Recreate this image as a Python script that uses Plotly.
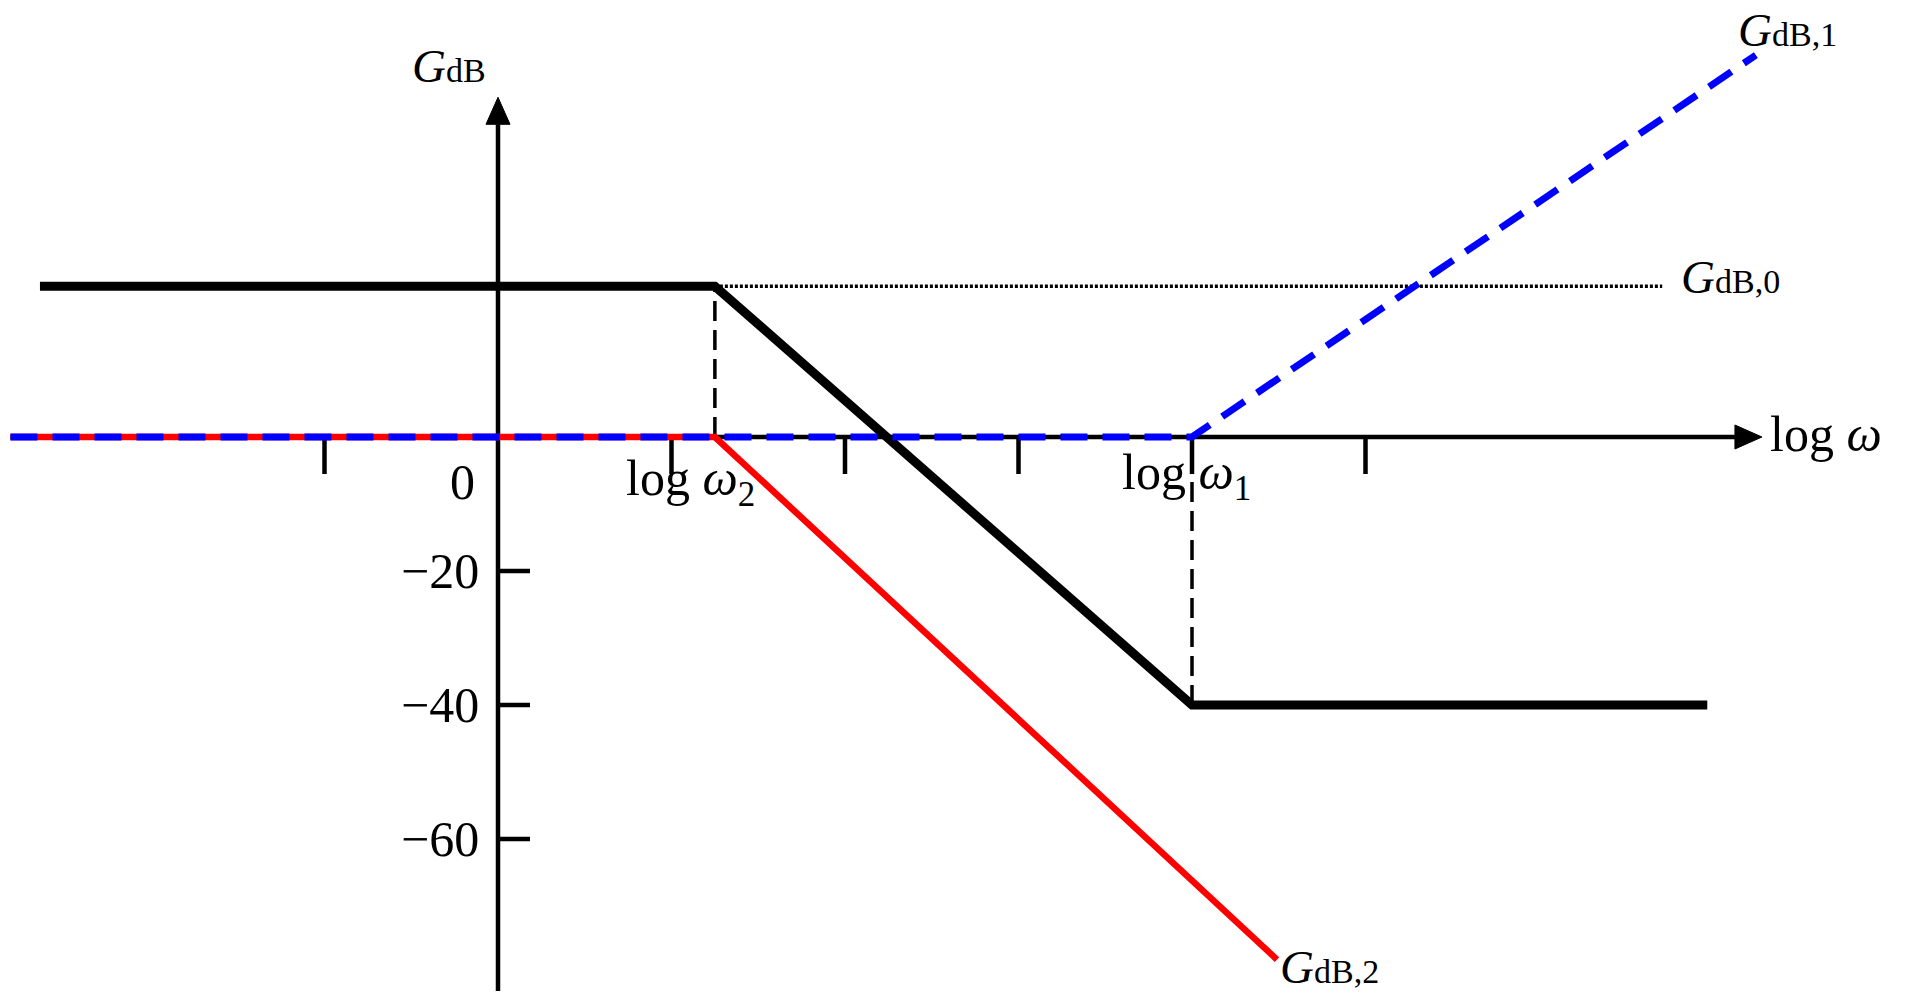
import plotly.graph_objects as go

# ---- Asymptotic Bode magnitude sketch (x in decades of log ω, y in dB) ----
log_w2 = 1.25          # first corner  (log ω2)
log_w1 = 4.0           # second corner (log ω1)
g_db0 = 22.5           # static gain level G_dB,0

# total response G_dB (thick black)
total_x = [-2.64, log_w2, log_w1, 6.97]
total_y = [g_db0, g_db0, -40, -40]

# G_dB,0 continuation (dotted)
g0_x = [log_w2, 6.71]
g0_y = [g_db0, g_db0]

# G_dB,1 : zero at ω1 (blue dashed)
g1_x = [-2.81, log_w1, 7.25]
g1_y = [0, 0, 57]

# G_dB,2 : pole at ω2 (red)
g2_x = [-2.81, log_w2, 4.49]
g2_y = [0, 0, -78]

# axes extent
x_axis_span = [-2.81, 7.285]
y_axis_span = [-82.7, 50.7]

# ticks
x_tick_vals = [-1, 1, 2, 3, 4, 5]
y_tick_vals = [-20, -40, -60]
y_tick_text = ["\u221220", "\u221240", "\u221260"]

# ---- pixel scale of the drawing ----
W, H = 1923, 995
X0_PX, PX_PER_DEC = 498.0, 173.5
Y0_PX, PX_PER_DB = 437.0, 6.7

def dx(px):
    return px / PX_PER_DEC

def dy(px):
    return px / PX_PER_DB

def px2x(p):
    return (p - X0_PX) / PX_PER_DEC

def px2y(p):
    return (Y0_PX - p) / PX_PER_DB

x_range = [px2x(0), px2x(W)]
y_range = [px2y(H), px2y(0)]

FONT = "Liberation Serif"
fig = go.Figure()

def line(x, y, color, width, dash="solid"):
    fig.add_trace(go.Scatter(x=x, y=y, mode="lines", hoverinfo="skip",
                             line=dict(color=color, width=width, dash=dash)))

def gaps(pairs):
    xs, ys = [], []
    for (xa, ya), (xb, yb) in pairs:
        xs += [xa, xb, None]
        ys += [ya, yb, None]
    return xs, ys

# axes with arrowheads
ax_len, ax_half = 27, 12
x_tip = x_axis_span[1]
y_tip = y_axis_span[1]
line([x_axis_span[0], x_tip - dx(ax_len)], [0, 0], "black", 4.5)
line([0, 0], [y_axis_span[0], y_tip - dy(ax_len)], "black", 4.5)
fig.add_trace(go.Scatter(
    x=[x_tip, x_tip - dx(ax_len), x_tip - dx(ax_len), x_tip],
    y=[0, dy(ax_half), -dy(ax_half), 0],
    mode="lines", fill="toself", fillcolor="black",
    line=dict(color="black", width=1), hoverinfo="skip"))
fig.add_trace(go.Scatter(
    x=[0, -dx(ax_half), dx(ax_half), 0],
    y=[y_tip, y_tip - dy(ax_len), y_tip - dy(ax_len), y_tip],
    mode="lines", fill="toself", fillcolor="black",
    line=dict(color="black", width=1), hoverinfo="skip"))

# tick marks
tx, ty = gaps([((v, 0), (v, -dy(37))) for v in x_tick_vals])
line(tx, ty, "black", 4.5)
tx, ty = gaps([((0, v), (dx(32), v)) for v in y_tick_vals])
line(tx, ty, "black", 4.5)

# corner-frequency guides
vx, vy = gaps([((log_w2, 0), (log_w2, g_db0)), ((log_w1, -40), (log_w1, 0))])
line(vx, vy, "black", 3.5, "20px,9px")

# dotted G_dB,0 level
line(g0_x, g0_y, "black", 3.5, "3px,2px")

# total response
line(total_x, total_y, "black", 9)

# G_dB,2 and G_dB,1
line(g2_x, g2_y, "#ff0000", 6.5)
line(g1_x, g1_y, "#0000ff", 7, "27px,15px")

# ---- text ----
def label(x, y, text, size=50, xanchor="center"):
    fig.add_annotation(x=x, y=y, xref="x", yref="y", text=text, showarrow=False,
                       xanchor=xanchor, yanchor="middle",
                       font=dict(family=FONT, size=size, color="black"))

def g_label(sub):
    return ("<i>G</i><span style=\"font-size:34px\">" + sub + "</span>")

for v, t in zip(y_tick_vals, y_tick_text):
    label(px2x(481), v, t, xanchor="right")

label(px2x(462), px2y(482), "0")
label(px2x(690), px2y(482), "log <i>\u03c9</i><sub>2</sub>")
label(px2x(1186), px2y(476), "log <i>\u03c9</i><sub>1</sub>")
label(px2x(1768), px2y(434), "log <i>\u03c9</i>", xanchor="left")

label(px2x(410), px2y(66), g_label("dB"), size=47, xanchor="left")
label(px2x(1736), px2y(30), g_label("dB,1"), size=47, xanchor="left")
label(px2x(1679), px2y(277), g_label("dB,0"), size=47, xanchor="left")
label(px2x(1278), px2y(967), g_label("dB,2"), size=47, xanchor="left")

fig.update_layout(
    width=W, height=H, margin=dict(l=0, r=0, t=0, b=0),
    paper_bgcolor="white", plot_bgcolor="white", showlegend=False,
    xaxis=dict(range=x_range, visible=False, fixedrange=True),
    yaxis=dict(range=y_range, visible=False, fixedrange=True),
)

fig.write_html("out.html", config={"displayModeBar": False})
